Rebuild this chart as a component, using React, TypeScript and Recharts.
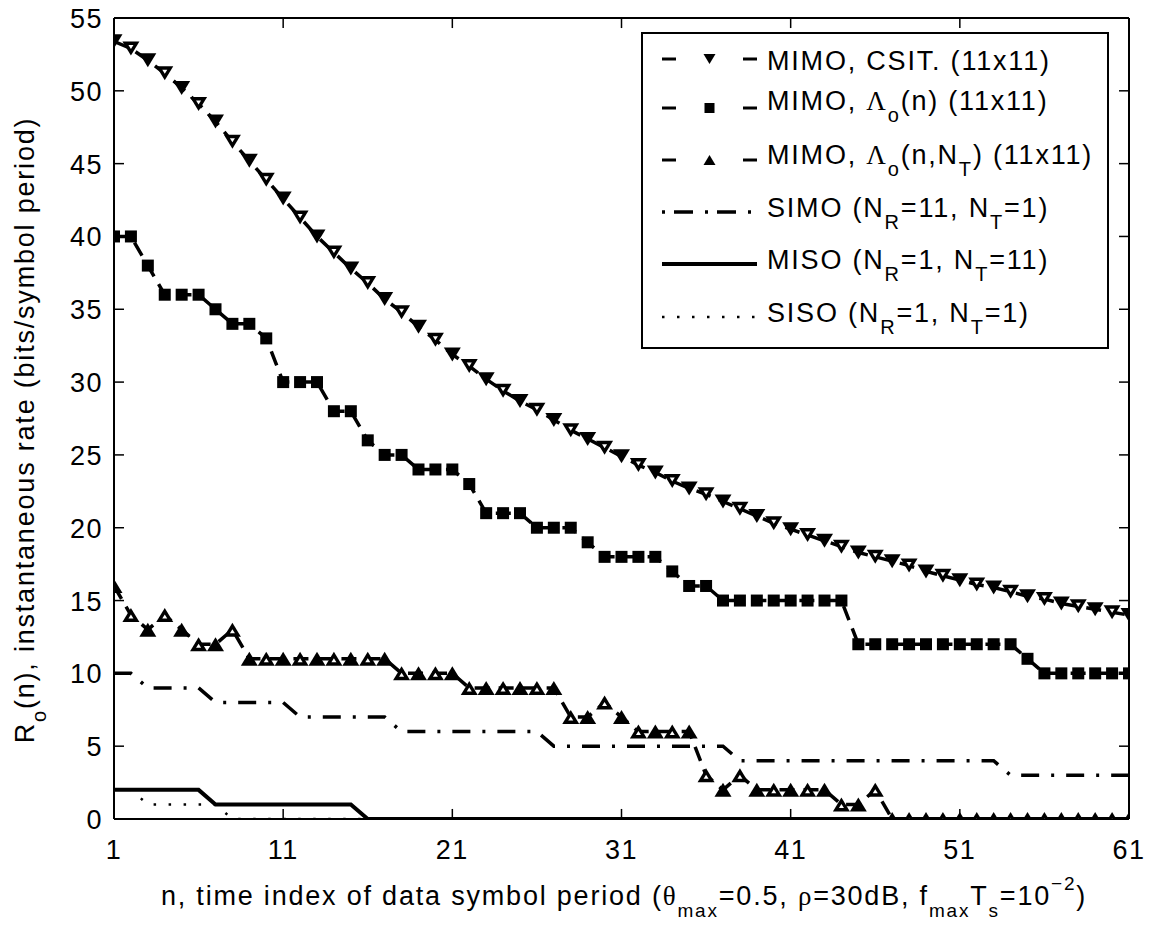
import React from "react";
import { LineChart, Line, XAxis, YAxis, ReferenceLine } from "recharts";

const FONT = "'Liberation Sans', Arial, Helvetica, sans-serif";
const SERIF = "'Liberation Serif', 'Times New Roman', serif";

// time index n
const nIndex = [
  1, 2, 3, 4, 5, 6, 7, 8, 9, 10, 11, 12, 13, 14, 15, 16, 17, 18, 19, 20, 21,
  22, 23, 24, 25, 26, 27, 28, 29, 30, 31, 32, 33, 34, 35, 36, 37, 38, 39, 40,
  41, 42, 43, 44, 45, 46, 47, 48, 49, 50, 51, 52, 53, 54, 55, 56, 57, 58, 59,
  60, 61,
];

const mimoCsit = [
  53.4, 52.9, 52.1, 51.2, 50.2, 49.1, 47.9, 46.5, 45.2, 43.9, 42.6, 41.3, 40.0,
  38.9, 37.8, 36.8, 35.7, 34.8, 33.8, 32.9, 31.9, 31.1, 30.2, 29.4, 28.7, 28.1,
  27.4, 26.7, 26.1, 25.5, 24.9, 24.3, 23.8, 23.2, 22.7, 22.3, 21.8, 21.3, 20.8,
  20.3, 19.9, 19.5, 19.1, 18.7, 18.3, 18.0, 17.7, 17.4, 17.0, 16.7, 16.4, 16.1,
  15.9, 15.6, 15.3, 15.1, 14.8, 14.6, 14.4, 14.2, 14.0,
];

const mimoLambdaN = [
  40, 40, 38, 36, 36, 36, 35, 34, 34, 33, 30, 30, 30, 28, 28, 26, 25, 25, 24,
  24, 24, 23, 21, 21, 21, 20, 20, 20, 19, 18, 18, 18, 18, 17, 16, 16, 15, 15,
  15, 15, 15, 15, 15, 15, 12, 12, 12, 12, 12, 12, 12, 12, 12, 12, 11, 10, 10,
  10, 10, 10, 10,
];

const mimoLambdaNT = [
  16, 14, 13, 14, 13, 12, 12, 13, 11, 11, 11, 11, 11, 11, 11, 11, 11, 10, 10,
  10, 10, 9, 9, 9, 9, 9, 9, 7, 7, 8, 7, 6, 6, 6, 6, 3, 2, 3, 2, 2, 2, 2, 2, 1,
  1, 2, 0, 0, 0, 0, 0, 0, 0, 0, 0, 0, 0, 0, 0, 0, 0,
];

const simo = [
  10, 10, 9, 9, 9, 9, 8, 8, 8, 8, 8, 7, 7, 7, 7, 7, 7, 6, 6, 6, 6, 6, 6, 6, 6,
  6, 5, 5, 5, 5, 5, 5, 5, 5, 5, 5, 5, 4, 4, 4, 4, 4, 4, 4, 4, 4, 4, 4, 4, 4, 4,
  4, 4, 3, 3, 3, 3, 3, 3, 3, 3,
];

const miso = [
  2, 2, 2, 2, 2, 2, 1, 1, 1, 1, 1, 1, 1, 1, 1, 0, 0, 0, 0, 0, 0, 0, 0, 0, 0, 0,
  0, 0, 0, 0, 0, 0, 0, 0, 0, 0, 0, 0, 0, 0, 0, 0, 0, 0, 0, 0, 0, 0, 0, 0, 0, 0,
  0, 0, 0, 0, 0, 0, 0, 0, 0,
];

const siso = [
  2, 2, 1, 1, 1, 1, 1, 0, 0, 0, 0, 0, 0, 0, 0, 0, 0, 0, 0, 0, 0, 0, 0, 0, 0, 0,
  0, 0, 0, 0, 0, 0, 0, 0, 0, 0, 0, 0, 0, 0, 0, 0, 0, 0, 0, 0, 0, 0, 0, 0, 0, 0,
  0, 0, 0, 0, 0, 0, 0, 0, 0,
];

const xTicks = [1, 11, 21, 31, 41, 51, 61];
const yTicks = [0, 5, 10, 15, 20, 25, 30, 35, 40, 45, 50, 55];
const innerXTicks = [11, 21, 31, 41, 51];
const innerYTicks = [5, 10, 15, 20, 25, 30, 35, 40, 45, 50];

const rows = nIndex.map((n, i) => ({
  n,
  csit: mimoCsit[i],
  lamN: mimoLambdaN[i],
  lamNT: mimoLambdaNT[i],
  simo: simo[i],
  miso: miso[i],
  siso: siso[i],
}));

const DASHED = "15 9";
const DASHDOT = "18 12 3 12";
const DOTTED = "2.5 12.5";

function triDown(cx: number, cy: number, w: number, h: number) {
  return `M${cx - w / 2},${cy - h / 2} L${cx + w / 2},${cy - h / 2} L${cx},${cy + h / 2} Z`;
}
function triUp(cx: number, cy: number, w: number, h: number) {
  return `M${cx - w / 2},${cy + h / 2} L${cx + w / 2},${cy + h / 2} L${cx},${cy - h / 2} Z`;
}

const renderDown = (p: any) => {
  const { cx, cy, index } = p;
  const hollow = index % 2 === 1;
  return (
    <g key={`dn${index}`}>
      <path d={triDown(cx, cy, 17, 14)} fill="#000" />
      {hollow && <path d={triDown(cx, cy - 1.5, 5, 4)} fill="#fff" />}
    </g>
  );
};

const renderUp = (p: any) => {
  const { cx, cy, index } = p;
  const hollow = index % 2 === 1;
  return (
    <g key={`up${index}`}>
      <path d={triUp(cx, cy, 17, 14)} fill="#000" />
      {hollow && <path d={triUp(cx, cy + 1.5, 5, 4)} fill="#fff" />}
    </g>
  );
};

const renderSquare = (p: any) => {
  const { cx, cy, index } = p;
  return <rect key={`sq${index}`} x={cx - 6} y={cy - 6} width={12} height={12} fill="#000" />;
};

const XTick = (p: any) => (
  <text
    x={p.x}
    y={p.y + 38}
    textAnchor="middle"
    fontSize={27}
    fontFamily={FONT}
    letterSpacing={1.5}
    fill="#000"
  >
    {p.payload.value}
  </text>
);

const YTick = (p: any) => (
  <text
    x={p.x - 9}
    y={p.y + 10}
    textAnchor="end"
    fontSize={27}
    fontFamily={FONT}
    letterSpacing={1.5}
    fill="#000"
  >
    {p.payload.value}
  </text>
);

// a run of text: [content, level (0 normal, 1 sub, -1 sup), serif?]
type Part = [string, number, boolean?];

function RichText({ parts, x, y, transform, anchor, size = 27, small = 20 }: any) {
  let prev = 0;
  return (
    <text
      x={x}
      y={y}
      transform={transform}
      textAnchor={anchor}
      fontSize={size}
      fontFamily={FONT}
      letterSpacing={1.8}
      fill="#000"
    >
      {(parts as Part[]).map(([s, lvl, serif], i) => {
        const off = lvl === 1 ? 12 : lvl === -1 ? -15 : 0;
        const dy = off - prev;
        prev = off;
        return (
          <tspan
            key={i}
            dy={dy}
            fontSize={lvl === 0 ? size : small}
            fontFamily={serif ? SERIF : FONT}
          >
            {s}
          </tspan>
        );
      })}
    </text>
  );
}

const legendRows = [59, 108, 160, 212, 264, 317];
const LX0 = 662;
const LX1 = 757;
const LMID = 709.5;

function Overlay() {
  return (
    <svg
      width={1149}
      height={927}
      style={{ position: "absolute", left: 0, top: 0, pointerEvents: "none" }}
    >
      {/* legend box */}
      <rect x={642} y={33} width={466} height={315} fill="#fff" stroke="#000" strokeWidth={2} />

      {/* row 1: CSIT */}
      <line x1={LX0} x2={676} y1={legendRows[0]} y2={legendRows[0]} stroke="#000" strokeWidth={3} />
      <line x1={743} x2={LX1} y1={legendRows[0]} y2={legendRows[0]} stroke="#000" strokeWidth={3} />
      <path d={triDown(LMID, legendRows[0], 12, 10)} fill="#000" />
      <RichText x={767} y={70} parts={[["MIMO, CSIT. (11x11)", 0]]} />

      {/* row 2: lambda(n) */}
      <line x1={LX0} x2={676} y1={legendRows[1]} y2={legendRows[1]} stroke="#000" strokeWidth={3} />
      <line x1={743} x2={LX1} y1={legendRows[1]} y2={legendRows[1]} stroke="#000" strokeWidth={3} />
      <rect x={LMID - 5} y={legendRows[1] - 5} width={10} height={10} fill="#000" />
      <RichText
        x={767}
        y={legendRows[1] + 2}
        parts={[
          ["MIMO, ", 0],
          ["Λ", 0, true],
          ["o", 1],
          ["(n) (11x11)", 0],
        ]}
      />

      {/* row 3: lambda(n,NT) */}
      <line x1={LX0} x2={676} y1={legendRows[2]} y2={legendRows[2]} stroke="#000" strokeWidth={3} />
      <line x1={743} x2={LX1} y1={legendRows[2]} y2={legendRows[2]} stroke="#000" strokeWidth={3} />
      <path d={triUp(LMID, legendRows[2], 12, 10)} fill="#000" />
      <RichText
        x={767}
        y={legendRows[2] + 4}
        parts={[
          ["MIMO, ", 0],
          ["Λ", 0, true],
          ["o", 1],
          ["(n,N", 0],
          ["T", 1],
          [") (11x11)", 0],
        ]}
      />

      {/* row 4: SIMO */}
      <line
        x1={LX0}
        x2={LX1}
        y1={legendRows[3]}
        y2={legendRows[3]}
        stroke="#000"
        strokeWidth={3.5}
        strokeDasharray="3 9 19 12"
      />
      <RichText
        x={767}
        y={legendRows[3] + 5}
        parts={[
          ["SIMO (N", 0],
          ["R", 1],
          ["=11, N", 0],
          ["T", 1],
          ["=1)", 0],
        ]}
      />

      {/* row 5: MISO */}
      <line x1={LX0} x2={LX1} y1={legendRows[4]} y2={legendRows[4]} stroke="#000" strokeWidth={4} />
      <RichText
        x={767}
        y={legendRows[4] + 5}
        parts={[
          ["MISO (N", 0],
          ["R", 1],
          ["=1, N", 0],
          ["T", 1],
          ["=11)", 0],
        ]}
      />

      {/* row 6: SISO */}
      <line
        x1={LX0}
        x2={LX1}
        y1={legendRows[5]}
        y2={legendRows[5]}
        stroke="#000"
        strokeWidth={2.5}
        strokeDasharray={DOTTED}
      />
      <RichText
        x={767}
        y={legendRows[5] + 5}
        parts={[
          ["SISO (N", 0],
          ["R", 1],
          ["=1, N", 0],
          ["T", 1],
          ["=1)", 0],
        ]}
      />

      {/* x label */}
      <RichText
        x={624}
        y={905}
        anchor="middle"
        small={19}
        parts={[
          ["n, time index of data symbol period (", 0],
          ["θ", 0, true],
          ["max", 1],
          ["=0.5, ", 0],
          ["ρ", 0, true],
          ["=30dB, f", 0],
          ["max", 1],
          ["T", 0],
          ["s", 1],
          ["=10", 0],
          ["−2", -1],
          [")", 0],
        ]}
      />

      {/* y label */}
      <RichText
        transform="translate(34,430) rotate(-90)"
        x={0}
        y={0}
        anchor="middle"
        parts={[
          ["R", 0],
          ["o", 1],
          ["(n), instantaneous rate (bits/symbol period)", 0],
        ]}
      />
    </svg>
  );
}

export default function App() {
  const frame = { stroke: "#000", strokeWidth: 2 };
  return (
    <div
      style={{
        position: "absolute",
        left: 0,
        top: 0,
        width: 1149,
        height: 927,
        background: "#fff",
        fontFamily: FONT,
      }}
    >
      <LineChart
        width={1149}
        height={927}
        data={rows}
        margin={{ top: 18, right: 20, bottom: 68, left: 34 }}
      >
        <XAxis
          dataKey="n"
          type="number"
          domain={[1, 61]}
          ticks={xTicks}
          interval={0}
          tick={XTick}
          tickLine={false}
          tickSize={0}
          axisLine={frame}
          height={40}
          allowDataOverflow
        />
        <YAxis
          type="number"
          domain={[0, 55]}
          ticks={yTicks}
          interval={0}
          tick={YTick}
          tickLine={false}
          tickSize={0}
          axisLine={frame}
          width={80}
          allowDataOverflow
        />

        {/* top and right frame */}
        <ReferenceLine y={55} stroke="#000" strokeWidth={2} />
        <ReferenceLine x={61} stroke="#000" strokeWidth={2} />

        {/* inward ticks on all four sides */}
        {innerXTicks.map((t) => (
          <ReferenceLine
            key={`bt${t}`}
            segment={[
              { x: t, y: 0 },
              { x: t, y: 0.69 },
            ]}
            stroke="#000"
            strokeWidth={1.5}
          />
        ))}
        {innerXTicks.map((t) => (
          <ReferenceLine
            key={`tt${t}`}
            segment={[
              { x: t, y: 55 },
              { x: t, y: 54.31 },
            ]}
            stroke="#000"
            strokeWidth={1.5}
          />
        ))}
        {innerYTicks.map((t) => (
          <ReferenceLine
            key={`lt${t}`}
            segment={[
              { x: 1, y: t },
              { x: 1.59, y: t },
            ]}
            stroke="#000"
            strokeWidth={1.5}
          />
        ))}
        {innerYTicks.map((t) => (
          <ReferenceLine
            key={`rt${t}`}
            segment={[
              { x: 61, y: t },
              { x: 60.41, y: t },
            ]}
            stroke="#000"
            strokeWidth={1.5}
          />
        ))}

        <Line
          dataKey="siso"
          type="linear"
          stroke="#000"
          strokeWidth={2.5}
          strokeDasharray={DOTTED}
          dot={false}
          activeDot={false}
          isAnimationActive={false}
        />
        <Line
          dataKey="miso"
          type="linear"
          stroke="#000"
          strokeWidth={4}
          dot={false}
          activeDot={false}
          isAnimationActive={false}
        />
        <Line
          dataKey="simo"
          type="linear"
          stroke="#000"
          strokeWidth={3.5}
          strokeDasharray={DASHDOT}
          dot={false}
          activeDot={false}
          isAnimationActive={false}
        />
        <Line
          dataKey="lamNT"
          type="linear"
          stroke="#000"
          strokeWidth={3.5}
          strokeDasharray={DASHED}
          dot={renderUp}
          activeDot={false}
          isAnimationActive={false}
        />
        <Line
          dataKey="lamN"
          type="linear"
          stroke="#000"
          strokeWidth={3.5}
          strokeDasharray={DASHED}
          dot={renderSquare}
          activeDot={false}
          isAnimationActive={false}
        />
        <Line
          dataKey="csit"
          type="linear"
          stroke="#000"
          strokeWidth={3.5}
          strokeDasharray={DASHED}
          dot={renderDown}
          activeDot={false}
          isAnimationActive={false}
        />
      </LineChart>
      <Overlay />
    </div>
  );
}
